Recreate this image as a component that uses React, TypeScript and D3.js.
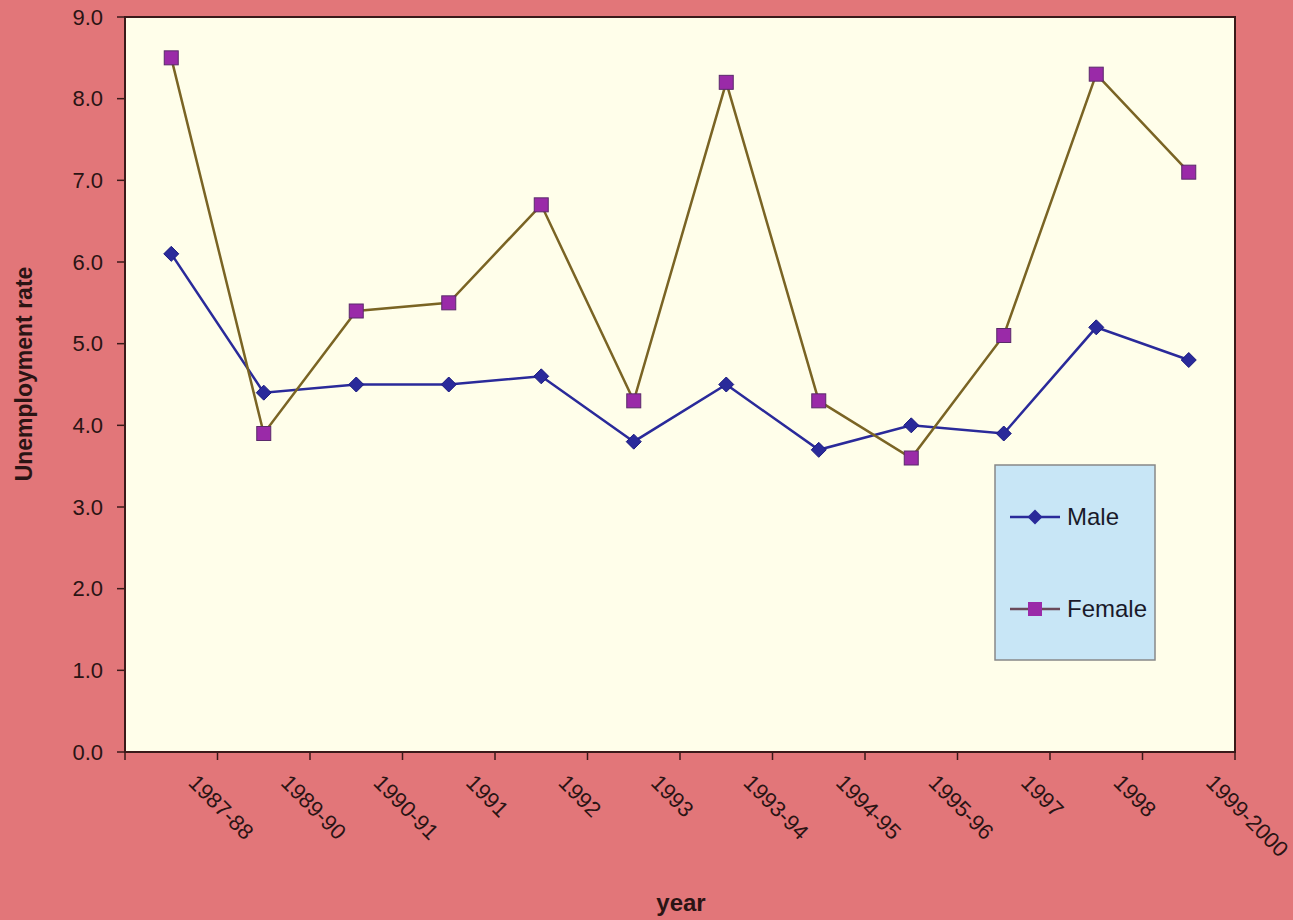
import React from "react";
import * as d3 from "d3";

const categories = ["1987-88","1989-90","1990-91","1991","1992","1993","1993-94","1994-95","1995-96","1997","1998","1999-2000"];
const maleValues = [6.1,4.4,4.5,4.5,4.6,3.8,4.5,3.7,4.0,3.9,5.2,4.8];
const femaleValues = [8.5,3.9,5.4,5.5,6.7,4.3,8.2,4.3,3.6,5.1,8.3,7.1];
const yTicks = [0,1,2,3,4,5,6,7,8,9];

const W = 1293, H = 920;
const left = 125, right = 1235, top = 17, bottom = 752;

export default function App() {
  const x = d3.scaleBand<string>().domain(categories).range([left, right]);
  const y = d3.scaleLinear().domain([0, 9]).range([bottom, top]);
  const cx = (c: string) => (x(c) as number) + x.bandwidth() / 2;
  const line = d3.line<number>().x((_, i) => cx(categories[i])).y((v) => y(v));
  const font = "Arial, 'Liberation Sans', sans-serif";
  const maleColor = "#2a2a9a";
  const femaleLine = "#7a6424";
  const femaleMarker = "#9a2aa8";
  const diamond = (px: number, py: number, r: number) => `M${px},${py - r}L${px + r},${py}L${px},${py + r}L${px - r},${py}Z`;
  const tickEdges = [...categories.map((c) => x(c) as number), right];
  return (
    <svg width={W} height={H} style={{ position: "absolute", left: 0, top: 0 }}>
      <rect x={0} y={0} width={W} height={H} fill="#e27679" />
      <rect x={left} y={top} width={right - left} height={bottom - top} fill="#fffeea" stroke="#3a1a1a" strokeWidth={2} />
      {yTicks.map((t) => (
        <g key={t}>
          <line x1={left - 8} x2={left} y1={y(t)} y2={y(t)} stroke="#3a1a1a" strokeWidth={1.5} />
          <text x={103} y={y(t)} dy="0.35em" textAnchor="end" fontFamily={font} fontSize={22} fill="#2a1414">{t.toFixed(1)}</text>
        </g>
      ))}
      {tickEdges.map((e, i) => (
        <line key={i} x1={e} x2={e} y1={bottom} y2={bottom + 8} stroke="#3a1a1a" strokeWidth={1.5} />
      ))}
      {categories.map((c) => (
        <text key={c} transform={`translate(${cx(c) + 16},${bottom + 32}) rotate(45)`} fontFamily={font} fontSize={22} fill="#2a1414">{c}</text>
      ))}
      <path d={line(maleValues) as string} fill="none" stroke={maleColor} strokeWidth={2.5} />
      <path d={line(femaleValues) as string} fill="none" stroke={femaleLine} strokeWidth={2.5} />
      {maleValues.map((v, i) => (
        <path key={"m" + i} d={diamond(cx(categories[i]), y(v), 7.5)} fill={maleColor} stroke="#1a1a80" strokeWidth={1} />
      ))}
      {femaleValues.map((v, i) => (
        <rect key={"f" + i} x={cx(categories[i]) - 7} y={y(v) - 7} width={14} height={14} fill={femaleMarker} stroke="#5a2a6a" strokeWidth={1} />
      ))}
      <rect x={995} y={465} width={160} height={195} fill="#c8e6f6" stroke="#888" strokeWidth={1.5} />
      <line x1={1010} x2={1060} y1={517} y2={517} stroke={maleColor} strokeWidth={2.5} />
      <path d={diamond(1035, 517, 7.5)} fill={maleColor} />
      <text x={1067} y={517} dy="0.35em" fontFamily={font} fontSize={24} fill="#1a1a2a">Male</text>
      <line x1={1010} x2={1060} y1={609} y2={609} stroke="#6a4a5a" strokeWidth={2.5} />
      <rect x={1028} y={602} width={14} height={14} fill={femaleMarker} />
      <text x={1067} y={609} dy="0.35em" fontFamily={font} fontSize={24} fill="#1a1a2a">Female</text>
      <text transform={`translate(32,374) rotate(-90)`} textAnchor="middle" fontFamily={font} fontSize={23} fontWeight="bold" fill="#2a1414">Unemployment rate</text>
      <text x={681} y={911} textAnchor="middle" fontFamily={font} fontSize={24} fontWeight="bold" fill="#2a1414">year</text>
    </svg>
  );
}
